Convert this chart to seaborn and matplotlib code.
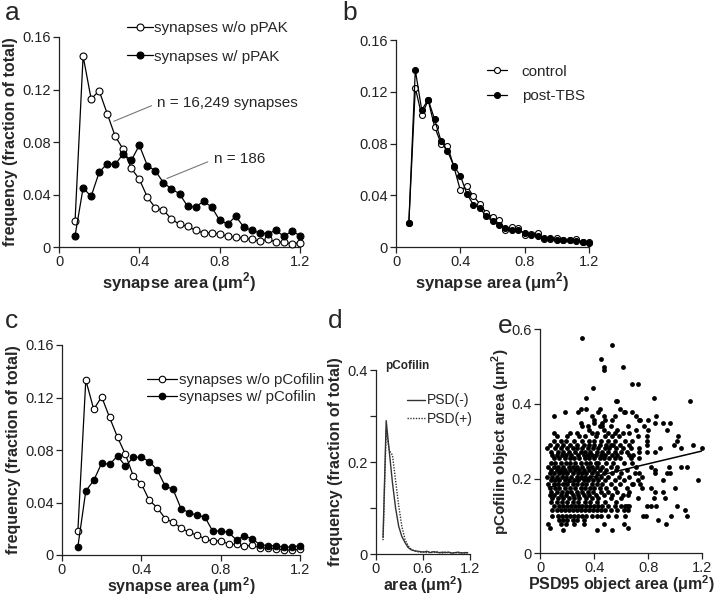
import numpy as np
import pandas as pd
import matplotlib
matplotlib.use('Agg')
import matplotlib.pyplot as plt
from matplotlib.ticker import FuncFormatter
import seaborn as sns

# ---- data ----
area_bins = [0.08, 0.12, 0.16, 0.20, 0.24, 0.28, 0.32, 0.36, 0.40, 0.44,
             0.48, 0.52, 0.56, 0.60, 0.64, 0.68, 0.72, 0.76, 0.80, 0.84,
             0.88, 0.92, 0.96, 1.00, 1.04, 1.08, 1.12, 1.16, 1.20]

# panel a
no_ppak = [0.020, 0.1455, 0.1128, 0.119, 0.1016, 0.0843, 0.0744, 0.060, 0.0516, 0.038,
           0.0297, 0.028, 0.0213, 0.0173, 0.0157, 0.0127, 0.0107, 0.0107, 0.0099, 0.0081,
           0.0074, 0.0066, 0.0058, 0.0046, 0.0058, 0.0040, 0.0036, 0.0025, 0.0033]
with_ppak = [0.0086, 0.045, 0.0386, 0.0569, 0.0635, 0.063, 0.0711, 0.066, 0.0775, 0.062,
             0.058, 0.049, 0.0442, 0.0406, 0.031, 0.0305, 0.0348, 0.0305, 0.0203, 0.0175,
             0.0234, 0.0152, 0.0127, 0.0107, 0.0102, 0.0127, 0.0081, 0.0122, 0.0086]

# panel b
control = [0.0188, 0.123, 0.1017, 0.1135, 0.0929, 0.080, 0.078, 0.062, 0.0439, 0.047,
           0.0395, 0.0335, 0.0266, 0.0232, 0.0206, 0.0134, 0.0155, 0.0145, 0.0095, 0.0103,
           0.011, 0.0062, 0.0062, 0.0072, 0.0057, 0.0052, 0.0065, 0.0036, 0.0036]
post_tbs = [0.0188, 0.1368, 0.1058, 0.114, 0.0986, 0.082, 0.0743, 0.0625, 0.0552, 0.0413,
            0.0328, 0.0305, 0.0237, 0.0199, 0.0173, 0.0145, 0.0134, 0.0129, 0.011, 0.009,
            0.0088, 0.0067, 0.0067, 0.0057, 0.0057, 0.0052, 0.0046, 0.0036, 0.0031]

# panel c
no_pcof = [0.0185, 0.1333, 0.1110, 0.1205, 0.1048, 0.0897, 0.0766, 0.0599, 0.0543, 0.0417,
           0.0361, 0.0278, 0.0248, 0.0207, 0.0172, 0.0152, 0.0124, 0.0104, 0.0109, 0.0083,
           0.0081, 0.0068, 0.0073, 0.0053, 0.0053, 0.0048, 0.0038, 0.0038, 0.0043]
with_pcof = [0.0063, 0.0488, 0.0568, 0.070, 0.069, 0.0755, 0.0677, 0.0745, 0.0745, 0.0712,
             0.0649, 0.0526, 0.050, 0.0354, 0.0323, 0.0303, 0.029, 0.0182, 0.0184, 0.0172,
             0.0114, 0.0147, 0.0121, 0.0078, 0.0071, 0.0071, 0.0058, 0.0063, 0.0071]

# panel d
d_bins = [0.09, 0.13, 0.17, 0.21, 0.25, 0.29, 0.33, 0.37, 0.41, 0.45, 0.49, 0.53, 0.57, 0.61,
          0.65, 0.69, 0.73, 0.77, 0.81, 0.85, 0.89, 0.93, 0.97, 1.01, 1.05, 1.09, 1.13, 1.17]
psd_minus = [0.036, 0.290, 0.222, 0.155, 0.100, 0.060, 0.038, 0.025, 0.014, 0.009, 0.007, 0.006, 0.005, 0.004,
             0.006, 0.003, 0.005, 0.004, 0.003, 0.004, 0.003, 0.004, 0.002, 0.003, 0.004, 0.002, 0.003, 0.003]
psd_plus = [0.030, 0.268, 0.225, 0.215, 0.160, 0.105, 0.060, 0.032, 0.018, 0.010, 0.007, 0.005, 0.004, 0.005,
            0.003, 0.004, 0.003, 0.005, 0.003, 0.002, 0.004, 0.003, 0.002, 0.003, 0.002, 0.003, 0.002, 0.002]

# panel e: points grouped by (quantised) pCofilin area rows
e_row_levels = [0.578, 0.559, 0.520, 0.500, 0.492, 0.453, 0.443, 0.416, 0.407, 0.387,
                0.378, 0.368, 0.357, 0.349, 0.340, 0.331, 0.322, 0.313, 0.301, 0.290,
                0.281, 0.272, 0.263, 0.254, 0.243, 0.232, 0.223, 0.214, 0.205, 0.196,
                0.185, 0.176, 0.165, 0.156, 0.147, 0.137, 0.127, 0.116, 0.100, 0.089,
                0.078, 0.068, 0.062]
e_row_psd95 = [
    [0.31], [0.53], [0.45], [0.47, 0.61], [0.47], [0.68, 0.72], [0.39], [0.34, 0.84],
    [0.56, 0.57, 1.11], [0.30, 0.34, 0.44, 0.59],
    [0.18, 0.28, 0.43, 0.62, 0.63, 0.68],
    [0.10, 0.38, 0.47, 0.55, 0.71, 0.86],
    [0.40, 0.48, 0.53, 0.73, 0.74, 0.80],
    [0.30, 0.40, 0.46, 0.85, 0.91, 0.96],
    [0.31, 0.35, 0.44, 0.46, 0.52, 0.65, 0.77],
    [0.36, 0.47, 0.57, 0.71, 0.80, 0.94],
    [0.10, 0.22, 0.27, 0.38, 0.42, 0.50, 0.55, 0.61, 0.66],
    [0.12, 0.20, 0.29, 0.33, 0.41, 0.48, 0.53, 0.58, 0.72, 0.79, 1.02],
    [0.10, 0.15, 0.19, 0.25, 0.31, 0.36, 0.40, 0.45, 0.50, 0.55, 0.63, 0.68, 0.79, 1.01],
    [0.07, 0.12, 0.17, 0.22, 0.27, 0.32, 0.36, 0.40, 0.44, 0.49, 0.52, 0.54, 0.59, 0.66, 0.79, 0.99, 1.13],
    [0.05, 0.11, 0.15, 0.20, 0.24, 0.27, 0.31, 0.35, 0.39, 0.43, 0.48, 0.51, 0.56, 0.61, 0.67, 0.73, 0.89, 1.04, 1.20],
    [0.08, 0.13, 0.17, 0.21, 0.26, 0.30, 0.33, 0.37, 0.42, 0.46, 0.50, 0.55, 0.60, 0.64, 0.73, 0.79, 0.85],
    [0.09, 0.12, 0.16, 0.19, 0.23, 0.28, 0.32, 0.35, 0.38, 0.41, 0.45, 0.48, 0.53, 0.57, 0.66, 0.69],
    [0.10, 0.14, 0.18, 0.22, 0.25, 0.29, 0.33, 0.36, 0.40, 0.44, 0.47, 0.51, 0.55, 0.59, 0.67, 0.73],
    [0.08, 0.11, 0.15, 0.19, 0.22, 0.26, 0.30, 0.34, 0.37, 0.41, 0.43, 0.49, 0.54, 0.62, 0.68],
    [0.06, 0.10, 0.13, 0.17, 0.21, 0.24, 0.27, 0.31, 0.35, 0.38, 0.42, 0.46, 0.52, 0.57, 0.71, 0.82, 0.95, 1.04, 1.09],
    [0.08, 0.12, 0.15, 0.18, 0.22, 0.26, 0.29, 0.32, 0.36, 0.40, 0.44, 0.49, 0.56, 0.64, 0.85],
    [0.07, 0.10, 0.14, 0.17, 0.20, 0.24, 0.28, 0.31, 0.34, 0.38, 0.42, 0.47, 0.53, 0.60, 0.70, 0.73, 0.85, 0.94, 0.96],
    [0.05, 0.09, 0.12, 0.16, 0.19, 0.23, 0.27, 0.30, 0.33, 0.37, 0.41, 0.45, 0.50, 0.58, 0.66, 0.75],
    [0.08, 0.11, 0.14, 0.18, 0.21, 0.25, 0.28, 0.32, 0.35, 0.39, 0.43, 0.48, 0.55, 0.62, 0.72, 0.91, 1.17],
    [0.06, 0.10, 0.13, 0.17, 0.20, 0.24, 0.27, 0.31, 0.34, 0.38, 0.42, 0.46, 0.52, 0.59, 0.68, 0.69, 0.74],
    [0.07, 0.11, 0.14, 0.18, 0.22, 0.26, 0.30, 0.33, 0.37, 0.40, 0.44, 0.49, 0.55, 0.64, 0.75, 0.82, 1.00],
    [0.08, 0.12, 0.16, 0.20, 0.23, 0.27, 0.31, 0.35, 0.39, 0.45, 0.50, 0.57, 0.66, 0.85, 0.91],
    [0.07, 0.10, 0.15, 0.19, 0.24, 0.28, 0.32, 0.36, 0.41, 0.47, 0.53, 0.61, 0.65],
    [0.09, 0.13, 0.17, 0.21, 0.25, 0.29, 0.34, 0.38, 0.43, 0.52, 0.60, 0.72, 0.84, 0.92],
    [0.08, 0.12, 0.16, 0.20, 0.24, 0.28, 0.33, 0.37, 0.42, 0.48, 0.56],
    [0.10, 0.14, 0.17, 0.20, 0.23, 0.26, 0.29, 0.31, 0.34, 0.37, 0.40, 0.43, 0.46, 0.50, 0.55, 0.60, 0.63, 0.64, 0.66, 0.79, 0.82, 0.86, 1.01],
    [0.09, 0.12, 0.15, 0.18, 0.21, 0.24, 0.27, 0.30, 0.33, 0.36, 0.39, 0.42, 0.45, 0.48, 0.52, 0.57, 0.62, 0.65, 1.07],
    [0.09, 0.13, 0.16, 0.19, 0.22, 0.25, 0.28, 0.31, 0.34, 0.38, 0.42, 0.45, 0.50, 0.56, 0.63, 0.76, 0.78, 0.97, 1.09],
    [0.14, 0.17, 0.20, 0.24, 0.27, 0.32, 0.87],
    [0.06, 0.15, 0.19, 0.25, 0.32, 0.47, 0.62, 0.93],
    [0.07, 0.65],
    [0.17, 0.42, 0.53],
]
fit_x = [0.06, 1.20]
fit_intercept = 0.171
fit_slope = 0.086

psd95_area = [x for xs in e_row_psd95 for x in xs]
pcofilin_area = [y for y, xs in zip(e_row_levels, e_row_psd95) for _ in xs]
scatter_df = pd.DataFrame({'psd95': psd95_area, 'pcofilin': pcofilin_area})

# ---- style ----
sns.set_theme(style='ticks')
plt.rcParams['font.family'] = ['Liberation Sans', 'DejaVu Sans']
plt.rcParams['mathtext.fontset'] = 'custom'
plt.rcParams['mathtext.rm'] = 'Liberation Sans'
plt.rcParams['mathtext.bf'] = 'Liberation Sans:bold'
plt.rcParams['axes.linewidth'] = 0.9
plt.rcParams['axes.edgecolor'] = '#222222'

W, H = 720, 598
fig = plt.figure(figsize=(W / 100, H / 100), dpi=100)


def add_ax(left, top, right, bottom):
    return fig.add_axes([left / W, 1 - bottom / H, (right - left) / W, (bottom - top) / H])


def fmt(v, pos):
    return '0' if abs(v) < 1e-9 else '%g' % v


def style(ax, xticks, yticks, xlabel, ylabel, xpad=1, ypad=3, ysize=11.5, xsize=12, xtickpad=2):
    ax.set_xlim(xticks[0], xticks[-1])
    ax.set_ylim(yticks[0], yticks[-1])
    ax.set_xticks(xticks)
    ax.set_yticks(yticks)
    ax.xaxis.set_major_formatter(FuncFormatter(fmt))
    ax.yaxis.set_major_formatter(FuncFormatter(fmt))
    ax.tick_params(direction='out', length=4, width=0.9, labelsize=10.5, pad=2,
                   colors='#222222', labelcolor='#222222')
    ax.tick_params(axis='x', pad=xtickpad)
    ax.set_xlabel(xlabel, fontsize=xsize, fontweight='bold', labelpad=xpad)
    ax.set_ylabel(ylabel, fontsize=ysize, fontweight='bold', labelpad=ypad)
    sns.despine(ax=ax)


def freq_line(ax, x, y, filled, label, ms=5):
    sns.lineplot(x=x, y=y, ax=ax, color='black', lw=0.9, marker='o', ms=ms,
                 markerfacecolor='black' if filled else 'white',
                 markeredgecolor='black', markeredgewidth=0.8,
                 clip_on=False, zorder=3, label=label)


area_label = r'synapse area ($\mathregular{\mu}$m$^{\mathbf{2}}$)'
freq_label = 'frequency (fraction of total)'
bin_ticks = [0, 0.4, 0.8, 1.2]
freq_ticks = [0, 0.04, 0.08, 0.12, 0.16]

# panel a
ax_a = add_ax(59, 37, 300, 247)
freq_line(ax_a, area_bins, no_ppak, False, 'synapses w/o pPAK')
freq_line(ax_a, area_bins, with_ppak, True, 'synapses w/ pPAK')
style(ax_a, bin_ticks, freq_ticks, area_label, freq_label)
ax_a.legend(loc='upper left', bbox_to_anchor=(0.282, 1.075), frameon=False, fontsize=11,
            handlelength=1.7, handletextpad=0.1, labelspacing=0.95, borderpad=0, borderaxespad=0)
ax_a.annotate('n = 16,249 synapses', xy=(0.273, 0.0958), xytext=(0.49, 0.1095),
              fontsize=11, ha='left', va='center',
              arrowprops=dict(arrowstyle='-', color='#777777', lw=0.8,
                              relpos=(0, 0.5), shrinkA=2, shrinkB=0))
ax_a.annotate('n = 186', xy=(0.537, 0.0522), xytext=(0.77, 0.0667),
              fontsize=11, ha='left', va='center',
              arrowprops=dict(arrowstyle='-', color='#777777', lw=0.8,
                              relpos=(0, 0.5), shrinkA=2, shrinkB=0))

# panel b
ax_b = add_ax(396, 40, 589, 247)
freq_line(ax_b, area_bins, control, False, 'control', ms=4.3)
freq_line(ax_b, area_bins, post_tbs, True, 'post-TBS', ms=4.3)
style(ax_b, bin_ticks, freq_ticks, area_label, '')
ax_b.legend(loc='upper left', bbox_to_anchor=(0.47, 0.88), frameon=False, fontsize=11,
            handlelength=1.3, handletextpad=1.0, labelspacing=0.68, borderpad=0, borderaxespad=0)

# panel c
ax_c = add_ax(62, 345, 300, 555)
freq_line(ax_c, area_bins, no_pcof, False, 'synapses w/o pCofilin', ms=4.7)
freq_line(ax_c, area_bins, with_pcof, True, 'synapses w/ pCofilin', ms=4.7)
style(ax_c, bin_ticks, freq_ticks, area_label, freq_label, xpad=-1, xsize=11.5, xtickpad=1.5)
ax_c.legend(loc='upper left', bbox_to_anchor=(0.357, 0.865), frameon=False, fontsize=10.8,
            handlelength=2.0, handletextpad=0.15, labelspacing=0.2, borderpad=0, borderaxespad=0)

# panel d
ax_d = add_ax(376, 370, 470, 554)
sns.lineplot(x=d_bins, y=psd_minus, ax=ax_d, color='#333333', lw=1.0, label='PSD(-)')
sns.lineplot(x=d_bins, y=psd_plus, ax=ax_d, color='#333333', lw=1.0, ls=(0, (1, 1)), label='PSD(+)')
style(ax_d, [0, 0.6, 1.2], [0, 0.1, 0.2, 0.3, 0.4],
      r'area ($\mathregular{\mu}$m$^{\mathbf{2}}$)', freq_label, xpad=-1, xsize=11.5, xtickpad=1.5)
ax_d.set_yticklabels(['0', '', '0.2', '', '0.4'])
ax_d.legend(loc='upper left', bbox_to_anchor=(0.33, 0.873), frameon=False, fontsize=10,
            handlelength=1.3, handletextpad=0.1, labelspacing=0.3, borderpad=0, borderaxespad=0)
ax_d.text(0.1, 1.02, 'pCofilin', transform=ax_d.transAxes, fontsize=8.5,
          fontweight='bold', ha='left', va='center')

# panel e
ax_e = add_ax(540.3, 329.3, 702.3, 553.3)
sns.scatterplot(data=scatter_df, x='psd95', y='pcofilin', ax=ax_e, s=12, color='black',
                linewidth=0, clip_on=False, zorder=3)
fit_arr = np.array(fit_x)
ax_e.plot(fit_arr, fit_intercept + fit_slope * fit_arr, color='black', lw=1.1, zorder=4)
style(ax_e, bin_ticks, [0, 0.2, 0.4, 0.6],
      r'PSD95 object area ($\mathregular{\mu}$m$^{\mathbf{2}}$)',
      r'pCofilin object area ($\mathregular{\mu}$m$^{\mathbf{2}}$)',
      xpad=-1, ypad=0, ysize=11, xsize=11.5, xtickpad=1.5)

# panel letters (baseline placed at the bottom of the glyphs)
for letter, px, py in [('a', 12, 20), ('b', 350, 20), ('c', 11, 328), ('d', 335, 328), ('e', 505, 333)]:
    fig.text(px / W, 1 - py / H, letter, fontsize=19, ha='center', va='baseline')

fig.savefig('out.png', dpi=100)
